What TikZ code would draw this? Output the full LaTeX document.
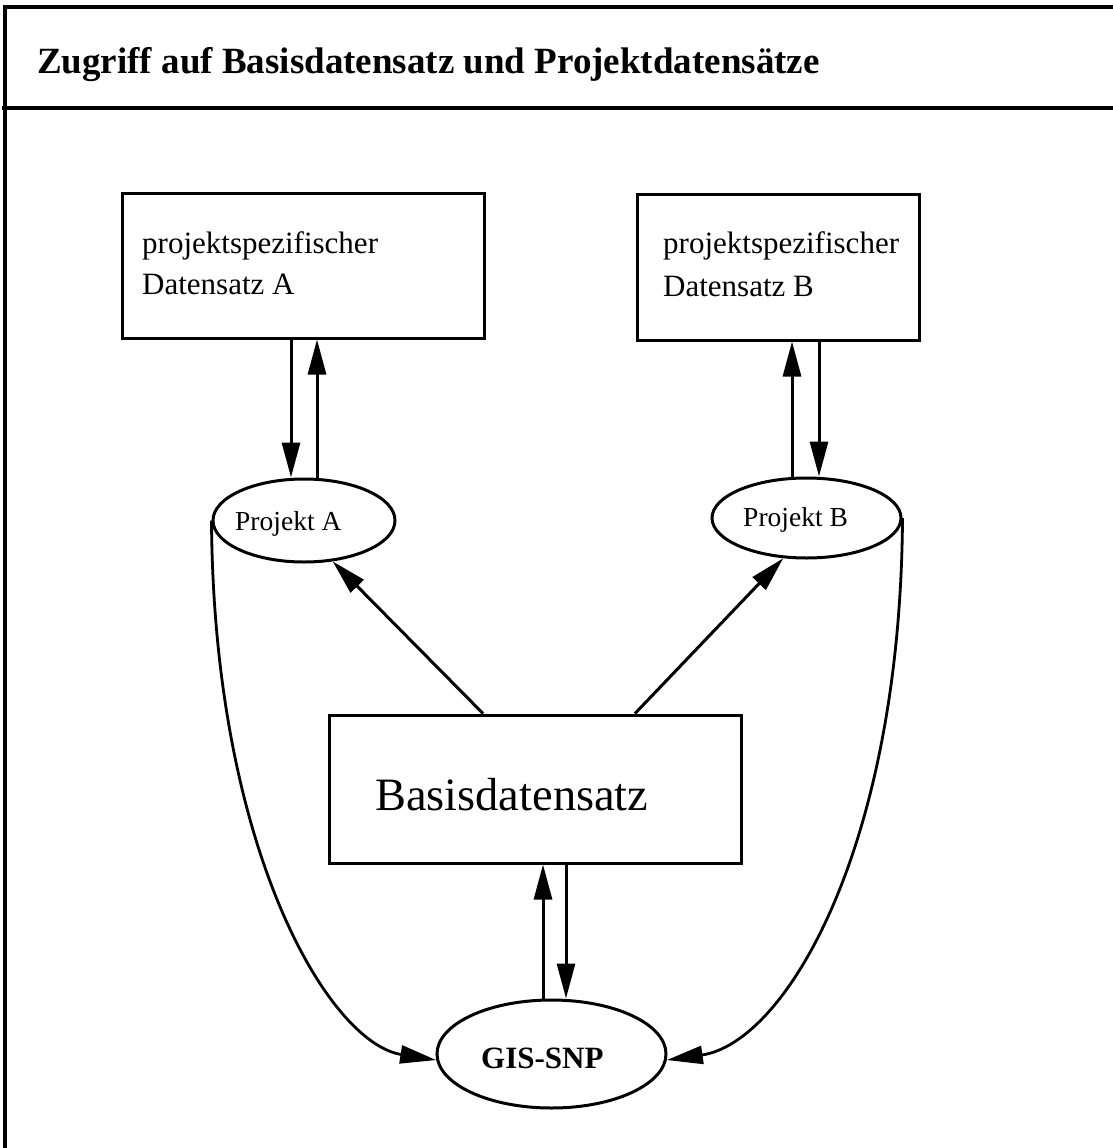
\documentclass[tikz,border=0pt]{standalone}
\usepackage{fontspec}
\setmainfont{Liberation Serif}
\usetikzlibrary{arrows.meta,shapes.geometric}
\begin{document}
\begin{tikzpicture}[x=1pt,y=-1pt,
  frameline/.style={line width=3.2pt},
  boxnode/.style={draw,line width=3pt,rectangle,inner sep=0pt},
  ellnode/.style={draw,line width=3pt,ellipse,inner sep=0pt},
  txt/.style={inner sep=0pt,anchor=base west},
  arr/.style={line width=3pt,-{Triangle[length=35pt,width=18pt]}},
  curv/.style={line width=2.8pt,-{Triangle[length=36pt,width=18pt]}},
  titlefont/.style={font=\fontsize{37}{44}\selectfont\bfseries},
  boxfont/.style={font=\fontsize{31}{37}\selectfont},
  ellfont/.style={font=\fontsize{27.5}{33}\selectfont},
  bigfont/.style={font=\fontsize{46.4}{55}\selectfont},
  gisfont/.style={font=\fontsize{31}{37}\selectfont\bfseries}]
\useasboundingbox (0,0) rectangle (1112,1148);
% frame
\draw[frameline] (5,1150) -- (5,7) -- (1114,7);
\draw[frameline] (2,108) -- (1114,108);
\node[txt,titlefont] (title) at (37,74) {Zugriff auf Basisdatensatz und Projektdatensätze};
% boxes
\node[boxnode,minimum width=362pt,minimum height=145pt] (boxA) at (303,265.5) {};
\node[txt,boxfont] (tA1) at (142,253) {projektspezifischer};
\node[txt,boxfont] (tA2) at (142,294) {Datensatz A};
\node[boxnode,minimum width=282pt,minimum height=146pt] (boxB) at (778,267) {};
\node[txt,boxfont] (tB1) at (663,253) {projektspezifischer};
\node[txt,boxfont] (tB2) at (663,296) {Datensatz B};
\node[boxnode,minimum width=412pt,minimum height=148pt] (basis) at (535,789) {};
\node[txt,bigfont] (tBasis) at (375,810) {Basisdatensatz};
% ellipses
\node[ellnode,minimum width=182pt,minimum height=83pt] (PA) at (304,520.5) {};
\node[txt,ellfont] (tPA) at (235,530) {Projekt A};
\node[ellnode,minimum width=189pt,minimum height=80pt] (PB) at (806.5,518) {};
\node[txt,ellfont] (tPB) at (743,526) {Projekt B};
\node[ellnode,minimum width=229pt,minimum height=108pt] (GIS) at (551.5,1054) {};
\node[txt,gisfont] (tGIS) at (481,1068) {GIS-SNP};
% arrows box A <-> Projekt A
\draw[arr] ([xshift=-12pt]boxA.south) -- ([xshift=-13pt]PA.north);
\draw[arr] ([xshift=13pt]PA.north) -- ([xshift=14pt]boxA.south);
% arrows box B <-> Projekt B
\draw[arr] ([xshift=-14.5pt]PB.north) -- ([xshift=14pt]boxB.south);
\draw[arr] ([xshift=41pt]boxB.south) -- ([xshift=12.5pt]PB.north);
% Basis <-> GIS
\draw[arr] ([xshift=-8.5pt]GIS.north) -- ([xshift=8pt]basis.south);
\draw[arr] ([xshift=31pt]basis.south) -- ([xshift=14.5pt]GIS.north);
% diagonals
\draw[arr] ([xshift=-52pt]basis.north) -- (PA.-55);
\draw[arr] ([xshift=100pt]basis.north) -- (PB.-120);
% curves
\draw[curv] (PA.west) .. controls +(2,330) and +(-107,-17) .. (GIS.183);
\draw[curv] (PB.east) .. controls +(-2,332) and +(118,-17) .. (GIS.-3);
\end{tikzpicture}
\end{document}
